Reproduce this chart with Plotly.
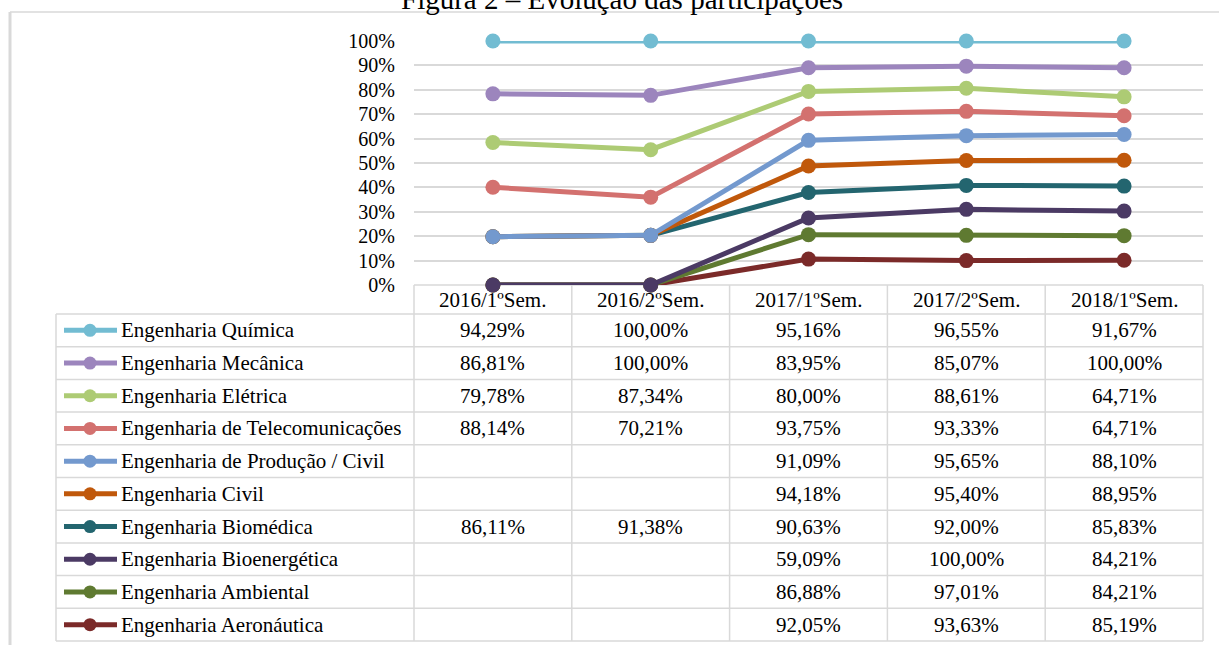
import plotly.graph_objects as go

W, H = 1219, 645

semesters = ["2016/1ºSem.", "2016/2ºSem.", "2017/1ºSem.", "2017/2ºSem.", "2018/1ºSem."]
courses = [
    "Engenharia Química",
    "Engenharia Mecânica",
    "Engenharia Elétrica",
    "Engenharia de Telecomunicações",
    "Engenharia de Produção / Civil",
    "Engenharia Civil",
    "Engenharia Biomédica",
    "Engenharia Bioenergética",
    "Engenharia Ambiental",
    "Engenharia Aeronáutica",
]
quimica = [94.29, 100.00, 95.16, 96.55, 91.67]
mecanica = [86.81, 100.00, 83.95, 85.07, 100.00]
eletrica = [79.78, 87.34, 80.00, 88.61, 64.71]
telecom = [88.14, 70.21, 93.75, 93.33, 64.71]
producao = [None, None, 91.09, 95.65, 88.10]
civil = [None, None, 94.18, 95.40, 88.95]
biomedica = [86.11, 91.38, 90.63, 92.00, 85.83]
bioenergetica = [None, None, 59.09, 100.00, 84.21]
ambiental = [None, None, 86.88, 97.01, 84.21]
aeronautica = [None, None, 92.05, 93.63, 85.19]
series = [quimica, mecanica, eletrica, telecom, producao, civil,
          biomedica, bioenergetica, ambiental, aeronautica]
colors = ["#72BCD2", "#9C85BD", "#ADCB74", "#D3716F", "#7399CE",
          "#C0580B", "#23656F", "#4B3A64", "#5F7A31", "#7B2A29"]

FONT = "Liberation Serif, Times New Roman, serif"
FS = 21
FS_TICK = 20

# 100% stacked: cumulative shares from bottom (last series) to top
n = len(semesters)
totals = [sum((s[i] or 0) for s in series) for i in range(n)]

def px(x):
    return x / W

def py(y):
    return 1 - y / H

# plot area in pixels
PL, PR, PT, PB = 414, 1203, 41, 285
fig = go.Figure()

cum = [0.0] * n
stack = {}
for idx in range(len(series) - 1, -1, -1):
    s = series[idx]
    cum = [cum[i] + (s[i] or 0) / totals[i] for i in range(n)]
    stack[idx] = list(cum)

for idx in range(len(series) - 1, -1, -1):
    fig.add_trace(go.Scatter(
        x=list(range(n)), y=stack[idx], mode="lines+markers",
        name=courses[idx], line=dict(color=colors[idx], width=5),
        marker=dict(color=colors[idx], size=15),
        cliponaxis=False, showlegend=False, hoverinfo="skip"))

shapes = []
ann = []
gray = "#d9d9d9"

def hline(x0, x1, y, w=1.5):
    shapes.append(dict(type="line", xref="paper", yref="paper",
                       x0=px(x0), x1=px(x1), y0=py(y), y1=py(y),
                       line=dict(color=gray, width=w), layer="below"))

def vline(x, y0, y1, w=1.5):
    shapes.append(dict(type="line", xref="paper", yref="paper",
                       x0=px(x), x1=px(x), y0=py(y0), y1=py(y1),
                       line=dict(color=gray, width=w), layer="below"))

# chart border (top & left)
hline(10, W, 12, 1.5)
vline(10, 12, H, 3)

# table grid
col_edges = [414 + i * (1203 - 414) / n for i in range(n + 1)]
row_top = 314
row_h = (641 - 314) / len(courses)
hline(414, 1203, PB)
for r in range(len(courses) + 1):
    hline(56, 1203, row_top + r * row_h)
vline(56, row_top, 641)
for xe in col_edges:
    vline(xe, PB, 641)

# header labels
for i, sem in enumerate(semesters):
    ann.append(dict(x=i, xref="x", y=py(300), yref="paper", text=sem,
                    showarrow=False, xanchor="center", yanchor="middle",
                    font=dict(family=FONT, size=FS, color="black")))

# rows
for r, (name, s) in enumerate(zip(courses, series)):
    yc = row_top + (r + 0.5) * row_h
    shapes.append(dict(type="line", xref="paper", yref="paper",
                       x0=px(64), x1=px(117), y0=py(yc), y1=py(yc),
                       line=dict(color=colors[r], width=5)))
    shapes.append(dict(type="circle", xref="paper", yref="paper",
                       x0=px(90 - 6.5), x1=px(90 + 6.5),
                       y0=py(yc + 6.5), y1=py(yc - 6.5),
                       fillcolor=colors[r], line=dict(width=0)))
    ann.append(dict(x=px(119), xref="paper", y=py(yc), yref="paper",
                    text=name, showarrow=False, xanchor="left", yanchor="middle",
                    font=dict(family=FONT, size=FS, color="black")))
    for i, v in enumerate(s):
        if v is None:
            continue
        txt = f"{v:.2f}".replace(".", ",") + "%"
        ann.append(dict(x=i, xref="x", y=py(yc), yref="paper", text=txt,
                        showarrow=False, xanchor="center", yanchor="middle",
                        font=dict(family=FONT, size=FS, color="black")))

# title (cut off at the top)
ann.append(dict(x=px(622), xref="paper", y=py(17), yref="paper",
                text="Figura 2 – Evolução das participações", showarrow=False,
                xanchor="center", yanchor="bottom",
                font=dict(family=FONT, size=29, color="black")))

fig.update_layout(
    width=W, height=H,
    margin=dict(l=0, r=0, t=0, b=0, pad=0, autoexpand=False),
    paper_bgcolor="white", plot_bgcolor="white",
    shapes=shapes, annotations=ann,
    xaxis=dict(domain=[px(PL), px(PR)], range=[-0.5, n - 0.5],
               showticklabels=False, showgrid=False, zeroline=False,
               automargin=False, fixedrange=True),
    yaxis=dict(domain=[py(PB), py(PT)], range=[0, 1], dtick=0.1,
               tickformat=".0%", showgrid=True, gridcolor=gray, gridwidth=1.5,
               zeroline=False, ticklabelstandoff=18, automargin=False,
               tickfont=dict(family=FONT, size=FS_TICK, color="black"),
               fixedrange=True),
)

fig.write_html(
    "out.html",
    config={"displayModeBar": False},
    post_script="document.body.style.margin='0';document.body.style.overflow='hidden';",
)
